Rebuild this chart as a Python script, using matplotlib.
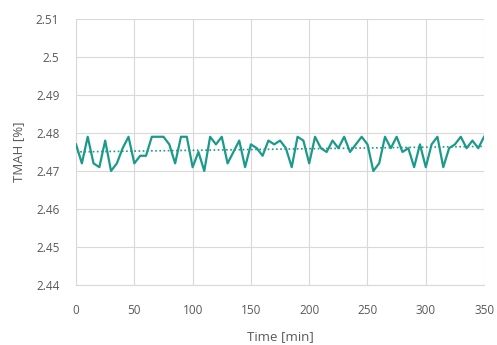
import numpy as np
import matplotlib
matplotlib.use("Agg")
import matplotlib.pyplot as plt

# TMAH concentration, sampled every 5 min
time_min = list(range(0, 355, 5))
tmah = [2.477, 2.472, 2.479, 2.472, 2.471, 2.478, 2.470, 2.472, 2.476, 2.479,
        2.472, 2.474, 2.474, 2.479, 2.479, 2.479, 2.477, 2.472, 2.479, 2.479,
        2.471, 2.475, 2.470, 2.479, 2.477, 2.479, 2.472, 2.475, 2.478, 2.471,
        2.477, 2.476, 2.474, 2.478, 2.477, 2.478, 2.476, 2.471, 2.479, 2.478,
        2.472, 2.479, 2.476, 2.475, 2.478, 2.476, 2.479, 2.475, 2.477, 2.479,
        2.477, 2.470, 2.472, 2.479, 2.476, 2.479, 2.475, 2.476, 2.471, 2.477,
        2.471, 2.477, 2.479, 2.471, 2.476, 2.477, 2.479, 2.476, 2.478, 2.476,
        2.479]
y_ticks = [2.44, 2.45, 2.46, 2.47, 2.48, 2.49, 2.5, 2.51]
x_ticks = [0, 50, 100, 150, 200, 250, 300, 350]

plt.rcParams['font.family'] = ['Open Sans', 'DejaVu Sans']
txt = '#595959'
teal = '#1b9a8a'

fig = plt.figure(figsize=(4.97, 3.45), dpi=100)
ax = fig.add_axes([0.153, 0.174, 0.821, 0.771])

ax.plot(time_min, tmah, color=teal, lw=1.6, zorder=3)

# linear trendline
coef = np.polyfit(time_min, tmah, 1)
ax.plot(time_min, np.polyval(coef, time_min), color=teal, lw=1.2, ls=(0, (1, 1.5)), zorder=2)

ax.set_xlim(0, 350)
ax.set_ylim(2.44, 2.51)
ax.set_xticks(x_ticks)
ax.set_yticks(y_ticks)
ax.set_yticklabels([f"{v:g}" for v in y_ticks])
ax.grid(True, color='#d9d9d9', lw=0.8)
ax.set_axisbelow(True)
for s in ['top', 'right']:
    ax.spines[s].set_visible(False)
for s in ['left', 'bottom']:
    ax.spines[s].set_color('#d9d9d9')
ax.tick_params(length=0, labelsize=8.5, labelcolor=txt)
ax.tick_params(axis='y', pad=12)
ax.tick_params(axis='x', pad=14)

ax.set_xlabel("Time [min]", fontsize=9.5, color=txt, labelpad=9)
ax.set_ylabel("TMAH [%]", fontsize=9.5, color=txt, labelpad=8)

fig.savefig("out.png", dpi=100)
